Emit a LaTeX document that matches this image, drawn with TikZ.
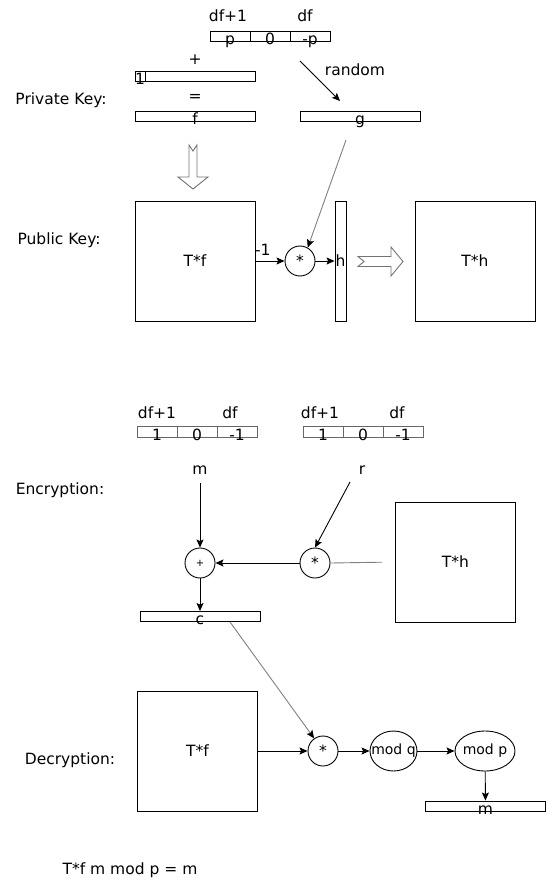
\documentclass[tikz,border=0pt]{standalone}
\usepackage{fontspec}
\setmainfont{DejaVu Sans}
\usetikzlibrary{positioning,arrows.meta,shapes.geometric}

\begin{document}
\begin{tikzpicture}[x=1pt,y=-1pt,line width=0.9pt,>={Stealth[length=8pt,width=7pt,inset=1.5pt]},
  font=\fontsize{15.5}{18}\selectfont,
  txt/.style={inner sep=0},
  bar/.style={draw,minimum width=120,minimum height=10,inner sep=0},
  cell/.style={draw,minimum width=40,minimum height=10,inner sep=0,outer sep=0},
  gcell/.style={cell,draw=black!60,minimum height=11},
  bartxt/.style={inner sep=0,anchor=base,yshift=-3pt},
  sq/.style={draw,minimum width=120,minimum height=120,inner sep=0},
  op/.style={draw,circle,minimum size=30,inner sep=0},
  modop/.style={draw,ellipse,minimum height=40,inner sep=0},
  gline/.style={draw=black!50,-{Stealth[length=8pt,width=7pt,inset=1.5pt,black]}},
  fat/.style={draw=black!55}]
  \useasboundingbox (0,0) rectangle (546,882);

  % private key
  \node[txt] (dfa) at (228,16) {df+1};
  \node[txt] (dfb) at (305,16) {df};
  \node[cell] (p1) at (230,36.5) {};
  \node[cell,right=0pt of p1] (p2) {};
  \node[cell,right=0pt of p2] (p3) {};
  \foreach \c/\t in {p1/p,p2/0,p3/-p} \node[bartxt] (t\c) at (\c.south) {\t};
  \node[txt] (plus) at (195,60) {+};
  \node[bar] (onebar) at (195,76) {};
  \node[draw,minimum width=10,minimum height=10,inner sep=0,anchor=west] (onecell) at (onebar.west) {};
  \node[bartxt] (one) at (onecell.south) {1};
  \node[txt] (eq) at (195,98) {=};
  \node[bar] (fbar) at (195,116) {};
  \node[bartxt] (f) at (fbar.south) {f};
  \node[bar] (gbar) at (360,116) {};
  \node[bartxt] (g) at (gbar.south) {g};
  \coordinate (rnd0) at (300,61);
  \coordinate (rnd1) at (340,101);
  \draw[->] (rnd0) -- (rnd1);
  \node[txt] (rnd) at (355,70) {random};
  \coordinate (dn) at (193,145);
  \draw[fat] (dn) ++(-4,0) -- ++(4,6) -- ++(4,-6) -- ++(0,32) -- ++(11,0) -- ++(-15,12) -- ++(-15,-12) -- ++(11,0) -- cycle;

  % public key
  \node[sq] (tf) at (195,261) {T*f};
  \node[op] (mulA) at (300,261) {*};
  \node[draw,minimum width=11,minimum height=120,inner sep=0] (hbar) at (340.5,261) {h};
  \draw[->] (tf) -- node[above=2pt,pos=0.25] (inv) {-1} (mulA);
  \draw[->] (mulA) -- (hbar);
  \coordinate (gout) at (346,140);
  \draw[gline] (gout) -- (mulA.60);
  \coordinate (rt) at (358,261.5);
  \draw[fat] (rt) ++(0,-5) -- ++(33,0) -- ++(0,-9.5) -- ++(12,14.5) -- ++(-12,14.5) -- ++(0,-9.5) -- ++(-33,0) -- ++(6,-5) -- cycle;
  \node[sq] (th) at (475,261) {T*h};
  \node[txt] (priv) at (61,100) {Private Key:};
  \node[txt] (pub) at (59,240) {Public Key:};

  % encryption
  \node[txt] (dfc) at (157,413) {df+1};
  \node[txt] (dfd) at (230,413) {df};
  \node[txt] (dfe) at (320,413) {df+1};
  \node[txt] (dff) at (397,413) {df};
  \node[gcell] (a1) at (157,431.5) {};
  \node[gcell,right=0pt of a1] (a2) {};
  \node[gcell,right=0pt of a2] (a3) {};
  \node[gcell] (b1) at (323,431.5) {};
  \node[gcell,right=0pt of b1] (b2) {};
  \node[gcell,right=0pt of b2] (b3) {};
  \foreach \c/\t in {a1/1,a2/0,a3/-1,b1/1,b2/0,b3/-1} \node[bartxt] (t\c) at (\c.south) {\t};
  \node[txt] (m) at (200,470) {m};
  \node[txt] (r) at (362,470) {r};
  \node[op] (add) at (200,563) {\fontsize{10}{12}\selectfont +};
  \node[op] (mulB) at (315,563) {*};
  \node[sq] (th2) at (455.5,562) {T*h};
  \coordinate (min) at (200,483);
  \coordinate (rin) at (350,482);
  \draw[->] (min) -- (add);
  \draw[->] (rin) -- (mulB.north);
  \draw[draw=black!50,shorten <=13pt] (th2.west) -- (mulB.east);
  \draw[->] (mulB) -- (add);
  \node[bar] (cbar) at (200,616.5) {};
  \node[bartxt] (c) at (cbar.south) {c};
  \draw[->] (add) -- (cbar);
  \coordinate (cout) at (230,622);
  \node[txt] (enc) at (60,490) {Encryption:};

  % decryption
  \node[sq] (tf2) at (197.5,751) {T*f};
  \node[op] (mulD) at (323,751) {*};
  \node[modop,minimum width=47] (modq) at (393.5,751) {};
  \node[txt,font=\fontsize{14}{16}\selectfont] (modqt) at (modq) {mod q};
  \node[modop,minimum width=60] (modp) at (485,751) {};
  \node[txt,font=\fontsize{14}{16}\selectfont] (modpt) at (modp) {mod p};
  \draw[->] (tf2) -- (mulD);
  \draw[->] (mulD) -- (modq);
  \draw[->] (modq) -- (modp);
  \node[bar] (mbar) at (485.5,806) {};
  \node[bartxt] (mout) at (mbar.south) {m};
  \draw[->] (modp) -- (mbar);
  \draw[gline] (cout) -- (mulD.125);
  \node[txt] (dec) at (70,760) {Decryption:};
  \node[txt] (rule) at (130,870) {T*f m mod p = m};
\end{tikzpicture}
\end{document}
